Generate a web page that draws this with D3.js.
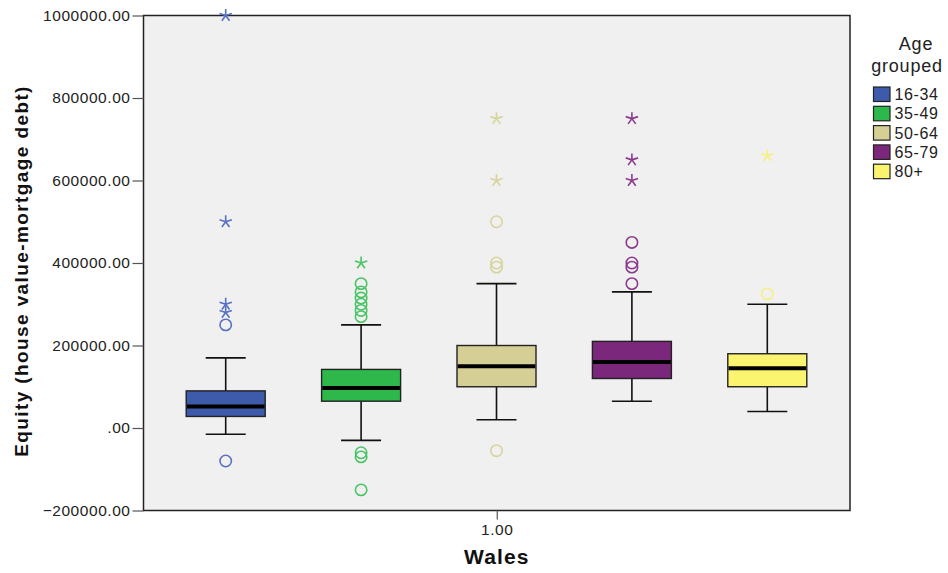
<!DOCTYPE html>
<html>
<head>
<meta charset="utf-8">
<script src="https://cdn.jsdelivr.net/npm/d3@7"></script>
<style>
  html, body { margin: 0; padding: 0; background: #fff; }
  svg { display: block; font-family: "Liberation Sans", Arial, sans-serif; }
</style>
</head>
<body>
<svg id="chart" width="948" height="573"></svg>
<script>
// Age groups and their box-plot summaries (equity in pounds)
const ageGroups = ["16-34", "35-49", "50-64", "65-79", "80+"];
const boxColors = ["#3e5aab", "#2eb84b", "#d5cf96", "#7b277c", "#fbf46f"];
const markColors = ["#5670c4", "#48c465", "#d8d39c", "#8d3a8e", "#f7f07d"];
const lowerWhisker = [-15000, -30000, 20000, 65000, 40000];
const q1 = [28000, 65000, 100000, 120000, 100000];
const median = [52000, 97000, 150000, 160000, 145000];
const q3 = [90000, 142000, 200000, 210000, 180000];
const upperWhisker = [170000, 250000, 350000, 330000, 300000];
// Outliers (circles) and extreme values (stars)
const outliers = [
  [-80000, 250000],
  [-150000, -70000, -60000, 270000, 285000, 300000, 315000, 330000, 350000],
  [-55000, 390000, 400000, 500000],
  [350000, 390000, 400000, 450000],
  [325000]
];
const extremes = [
  [280000, 300000, 500000, 1000000],
  [400000],
  [600000, 750000],
  [600000, 650000, 750000],
  [660000]
];
const yTicks = [-200000, 0, 200000, 400000, 600000, 800000, 1000000];
const xCategory = "1.00";

const svg = d3.select("#chart");
const plot = { left: 143.5, right: 850, top: 15.5, bottom: 510.5 };

const y = d3.scaleLinear().domain([-200000, 1000000]).range([plot.bottom, plot.top]);
const x = d3.scaleBand().domain(ageGroups).range([158, 835]).paddingInner(0).paddingOuter(0);
const boxW = 79, capW = 40;

// Plot background and frame
svg.append("rect")
  .attr("x", plot.left).attr("y", plot.top)
  .attr("width", plot.right - plot.left).attr("height", plot.bottom - plot.top)
  .attr("fill", "#f0f0f0").attr("stroke", "#222").attr("stroke-width", 1.5);

// Y axis
const yAxis = d3.axisLeft(y).tickValues(yTicks).tickSize(11).tickPadding(2)
  .tickFormat(d => d === 0 ? ".00" : d3.format(".2f")(d));
const gy = svg.append("g").attr("transform", `translate(${plot.left},0)`).call(yAxis);
gy.select(".domain").remove();
gy.selectAll(".tick line").attr("stroke", "#555").attr("stroke-width", 1.2);
gy.selectAll(".tick text").attr("fill", "#222").style("font-size", "15.5px")
  .style("letter-spacing", "0.55px");

// X axis (single category)
const xAxisScale = d3.scalePoint().domain([xCategory]).range([plot.left, plot.right]).padding(0.5);
const xAxis = d3.axisBottom(xAxisScale).tickSize(9).tickPadding(4);
const gx = svg.append("g").attr("transform", `translate(0,${plot.bottom})`).call(xAxis);
gx.select(".domain").remove();
gx.selectAll(".tick line").attr("stroke", "#555").attr("stroke-width", 1.2);
gx.selectAll(".tick text").attr("fill", "#222").style("font-size", "15.5px")
  .style("letter-spacing", "0.6px");

// Axis titles
svg.append("text")
  .attr("x", xAxisScale(xCategory)).attr("y", 564)
  .attr("text-anchor", "middle").attr("font-weight", "bold").attr("font-size", 21)
  .attr("letter-spacing", 1.1).attr("fill", "#111").text("Wales");
svg.append("text")
  .attr("transform", `translate(28,271) rotate(-90)`)
  .attr("text-anchor", "middle").attr("font-weight", "bold").attr("font-size", 19)
  .attr("letter-spacing", 1.4).attr("fill", "#111").text("Equity (house value-mortgage debt)");

// Star marker path (five arms)
function starPath(r) {
  let p = "";
  for (let i = 0; i < 5; i++) {
    const a = -Math.PI / 2 + i * 2 * Math.PI / 5;
    p += `M0,0L${(r * Math.cos(a)).toFixed(2)},${(r * Math.sin(a)).toFixed(2)}`;
  }
  return p;
}

const groups = svg.append("g").selectAll("g")
  .data(ageGroups.map((g, i) => ({
    g, i, lo: lowerWhisker[i], q1: q1[i], med: median[i], q3: q3[i], hi: upperWhisker[i],
    out: outliers[i], ext: extremes[i]
  })))
  .join("g")
  .attr("transform", d => `translate(${x(d.g) + x.bandwidth() / 2},0)`);

// Whisker stems and caps
groups.append("line").attr("x1", 0).attr("x2", 0)
  .attr("y1", d => y(d.hi)).attr("y2", d => y(d.q3))
  .attr("stroke", "#111").attr("stroke-width", 1.6);
groups.append("line").attr("x1", 0).attr("x2", 0)
  .attr("y1", d => y(d.q1)).attr("y2", d => y(d.lo))
  .attr("stroke", "#111").attr("stroke-width", 1.6);
groups.selectAll(".cap").data(d => [d.hi, d.lo]).join("line").attr("class", "cap")
  .attr("x1", -capW / 2).attr("x2", capW / 2)
  .attr("y1", v => y(v)).attr("y2", v => y(v))
  .attr("stroke", "#111").attr("stroke-width", 1.6);

// Boxes
groups.append("rect")
  .attr("x", -boxW / 2).attr("width", boxW)
  .attr("y", d => y(d.q3)).attr("height", d => y(d.q1) - y(d.q3))
  .attr("fill", d => boxColors[d.i]).attr("stroke", "#222").attr("stroke-width", 1.4);

// Medians
groups.append("line")
  .attr("x1", -boxW / 2 + 0.7).attr("x2", boxW / 2 - 0.7)
  .attr("y1", d => y(d.med)).attr("y2", d => y(d.med))
  .attr("stroke", "#000").attr("stroke-width", 4);

// Outlier circles and extreme-value stars
groups.each(function(d) {
  const g = d3.select(this);
  g.selectAll(".out").data(d.out).join("circle").attr("class", "out")
    .attr("cx", 0).attr("cy", v => y(v)).attr("r", 5.7)
    .attr("fill", "none").attr("stroke", markColors[d.i]).attr("stroke-width", 1.6);
  g.selectAll(".ext").data(d.ext).join("path").attr("class", "ext")
    .attr("transform", v => `translate(0,${y(v)})`)
    .attr("d", starPath(6.5))
    .attr("fill", "none").attr("stroke", markColors[d.i]).attr("stroke-width", 1.6);
});

// Legend
const legend = svg.append("g");
legend.append("text").attr("x", 916).attr("y", 50).attr("text-anchor", "middle")
  .attr("font-size", 18).attr("letter-spacing", 0.8).attr("fill", "#222").text("Age");
legend.append("text").attr("x", 907).attr("y", 72).attr("text-anchor", "middle")
  .attr("font-size", 18).attr("letter-spacing", 0.8).attr("fill", "#222").text("grouped");
const items = legend.selectAll(".item").data(ageGroups).join("g").attr("class", "item")
  .attr("transform", (d, i) => `translate(873.5,${87 + i * 19.3})`);
items.append("rect").attr("width", 16.5).attr("height", 14.5)
  .attr("fill", (d, i) => boxColors[i]).attr("stroke", "#222").attr("stroke-width", 1.2);
items.append("text").attr("x", 21).attr("y", 13)
  .attr("font-size", 16).attr("letter-spacing", 0.6).attr("fill", "#222").text(d => d);
</script>
</body>
</html>
